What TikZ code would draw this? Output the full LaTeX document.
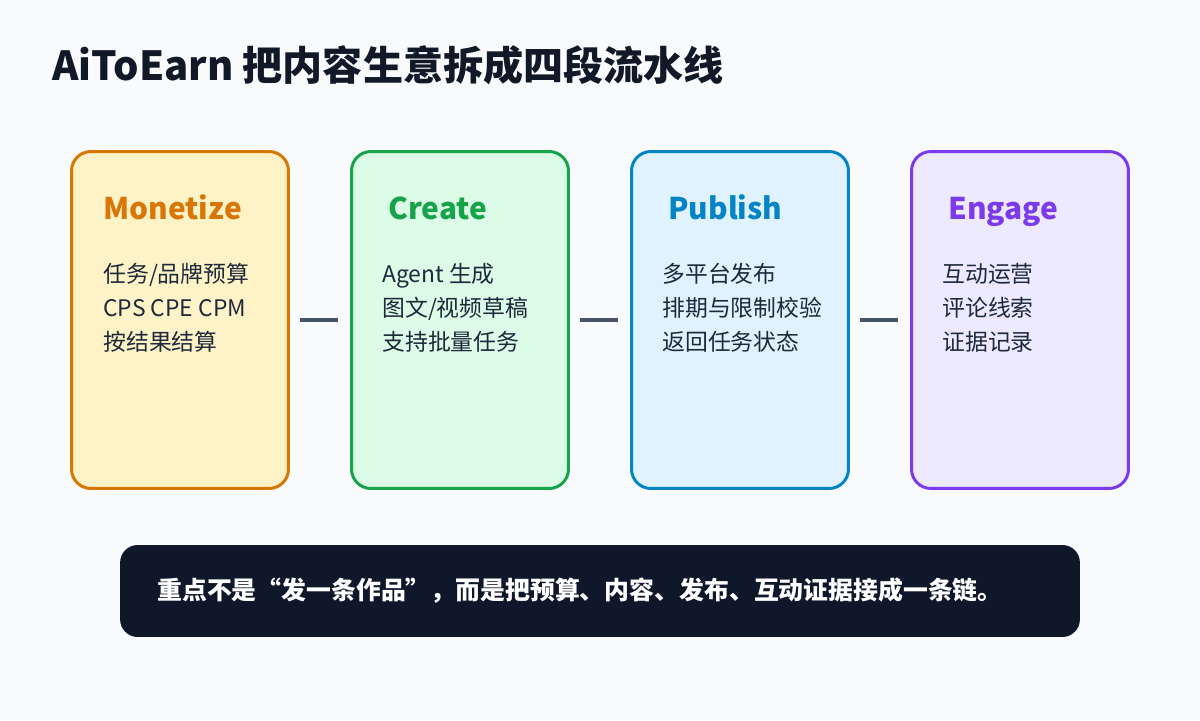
\documentclass[tikz,border=0pt]{standalone}
\usepackage{fontspec}
\setmainfont{Noto Sans CJK SC}
\usepackage{xcolor}
\usetikzlibrary{positioning}
\definecolor{pagebg}{HTML}{F8FAFC}
\definecolor{inkdark}{HTML}{111827}
\definecolor{bodyink}{HTML}{1E293B}
\definecolor{linkcol}{HTML}{475569}
\definecolor{footbg}{HTML}{0F172A}
\definecolor{moncol}{HTML}{D97706}
\definecolor{monfill}{HTML}{FEF3C7}
\definecolor{crecol}{HTML}{16A34A}
\definecolor{crefill}{HTML}{DCFCE7}
\definecolor{pubcol}{HTML}{0284C7}
\definecolor{pubfill}{HTML}{E0F2FE}
\definecolor{engcol}{HTML}{7C3AED}
\definecolor{engfill}{HTML}{EDE9FE}
\tikzset{
  stagebox/.style={rounded corners=11pt,line width=1.7pt,draw=#1col,fill=#1fill,
    minimum width=4.34cm,minimum height=6.74cm,inner sep=0pt},
  stagehead/.style={anchor=base west,inner sep=0pt,text=#1col,
    font=\fontsize{17}{20}\selectfont\bfseries},
  stagebody/.style={anchor=base west,inner sep=0pt,align=left,text=bodyink,
    font=\fontsize{13}{19.3}\selectfont},
  link/.style={draw=linkcol,line width=2.8pt,shorten <=5.7pt,shorten >=6.8pt},
}

\begin{document}
\begin{tikzpicture}[x=0.02cm,y=-0.02cm]
  \fill[pagebg] (0,0) rectangle (1200,720);
  \useasboundingbox (0,0) rectangle (1200,720);
  \node[anchor=base west,inner sep=0pt,text=inkdark,
        font=\fontsize{22.8}{26}\selectfont\bfseries] (title) at (52,80)
    {AiToEarn 把内容生意拆成四段流水线};
  % four stages of the pipeline
  \foreach \n/\x/\hx/\bx/\head/\body in {
      mon/180/103/103/Monetize/{任务/品牌预算\\CPS CPE CPM\\按结果结算},
      cre/460/388/382/Create/{Agent 生成\\图文/视频草稿\\支持批量任务},
      pub/740/668/662/Publish/{多平台发布\\排期与限制校验\\返回任务状态},
      eng/1020/948/942/Engage/{互动运营\\评论线索\\证据记录}}{
    \node[stagebox=\n] (\n) at (\x,320) {};
    \node[stagehead=\n] (\n-head) at (\hx,219) {\head};
    \node[stagebody] (\n-body) at (\bx,350) {\body};}
  \foreach \a/\b in {mon/cre,cre/pub,pub/eng}
    \draw[link] (\a) -- (\b);
  \node[rounded corners=10pt,fill=footbg,minimum width=19.2cm,minimum height=1.84cm,
        inner sep=0pt] (foot) at (600,591) {};
  \node[anchor=west,inner sep=0pt,text=white,font=\fontsize{14.15}{17}\selectfont\bfseries]
    (footnote) at (157,591)
    {重点不是“发一条作品”，而是把预算、内容、发布、互动证据接成一条链。};
\end{tikzpicture}
\end{document}
